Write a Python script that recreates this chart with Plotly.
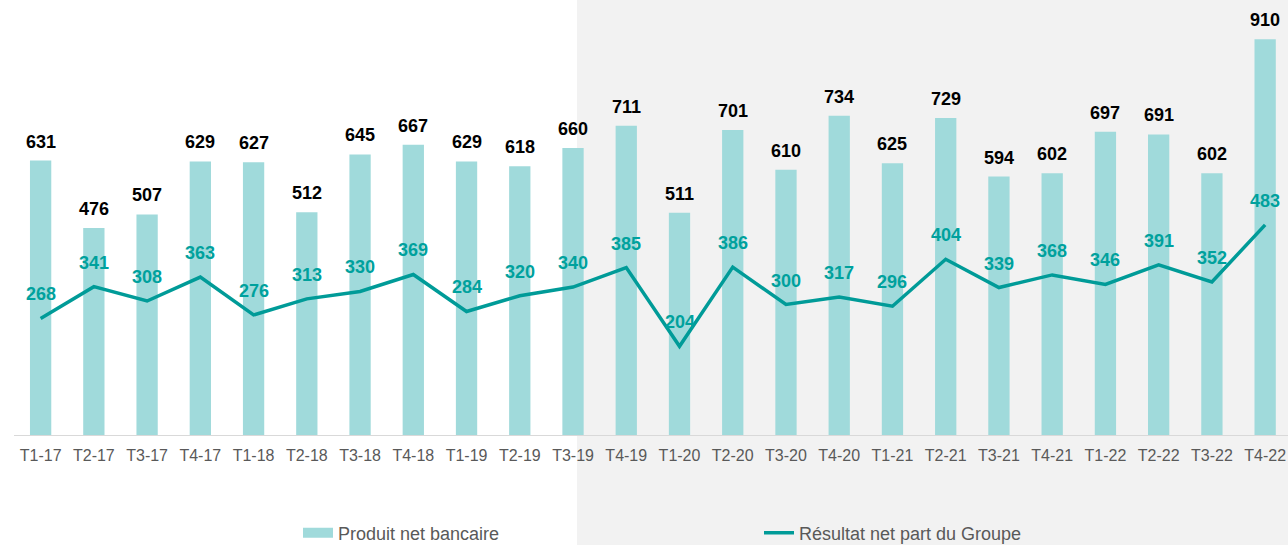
import plotly.graph_objects as go

categories = ["T1-17", "T2-17", "T3-17", "T4-17", "T1-18", "T2-18", "T3-18", "T4-18",
              "T1-19", "T2-19", "T3-19", "T4-19", "T1-20", "T2-20", "T3-20", "T4-20",
              "T1-21", "T2-21", "T3-21", "T4-21", "T1-22", "T2-22", "T3-22", "T4-22"]
pnb = [631, 476, 507, 629, 627, 512, 645, 667, 629, 618, 660, 711,
       511, 701, 610, 734, 625, 729, 594, 602, 697, 691, 602, 910]
rnpg = [268, 341, 308, 363, 276, 313, 330, 369, 284, 320, 340, 385,
        204, 386, 300, 317, 296, 404, 339, 368, 346, 391, 352, 483]

BAR_COLOR = "#A0DADB"
LINE_COLOR = "#009B98"
LABEL_TEAL = "#00A19D"
FONT = "Liberation Sans, Arial, sans-serif"

W, H = 1288, 545
ML, MR, MT, MB = 14, 0, 0, 110
PW = W - ML - MR
PH = H - MT - MB

fig = go.Figure()

fig.add_trace(go.Bar(
    x=categories, y=pnb, name="Produit net bancaire",
    marker=dict(color=BAR_COLOR, line=dict(width=0)),
    showlegend=False, hoverinfo="x+y",
))
# legend-only swatch for the bar series (wide flat rectangle as in the reference)
fig.add_trace(go.Scatter(
    x=[None], y=[None], mode="lines", name="Produit net bancaire",
    line=dict(color=BAR_COLOR, width=10), showlegend=True, hoverinfo="skip",
))
fig.add_trace(go.Scatter(
    x=categories, y=rnpg, mode="lines", name="Résultat net part du Groupe",
    line=dict(color=LINE_COLOR, width=3.5), showlegend=True,
))

annotations = []
for c, v in zip(categories, pnb):
    annotations.append(dict(x=c, y=v, xref="x", yref="y", text=f"<b>{v}</b>",
                            showarrow=False, yanchor="middle", yshift=19,
                            font=dict(family=FONT, size=18, color="#000000")))
for c, v in zip(categories, rnpg):
    annotations.append(dict(x=c, y=v, xref="x", yref="y", text=f"<b>{v}</b>",
                            showarrow=False, yanchor="middle", yshift=24,
                            font=dict(family=FONT, size=18, color=LABEL_TEAL)))

gx0 = (577 - ML) / PW
fig.update_layout(
    width=W, height=H,
    margin=dict(l=ML, r=MR, t=MT, b=MB, pad=0),
    paper_bgcolor="#FFFFFF", plot_bgcolor="rgba(0,0,0,0)",
    bargap=0.6,
    font=dict(family=FONT, color="#595959"),
    shapes=[dict(type="rect", xref="paper", yref="paper", x0=gx0, x1=1.05,
                 y0=-MB / PH - 0.05, y1=1.05, fillcolor="#F2F2F2",
                 line=dict(width=0), layer="below")],
    annotations=annotations,
    xaxis=dict(range=[-0.5, -0.5 + PW / 53.24], showline=True, linecolor="#D9D9D9",
               linewidth=1, showgrid=False, zeroline=False, ticks="outside",
               ticklen=6, tickcolor="rgba(0,0,0,0)",
               tickfont=dict(family=FONT, size=16, color="#595959")),
    yaxis=dict(range=[0, 1000], visible=False, showgrid=False, zeroline=False),
    legend=dict(orientation="h", xref="container", yref="container",
                x=298 / W, xanchor="left", y=1 - 533 / H, yanchor="middle",
                entrywidth=416, entrywidthmode="pixels",
                font=dict(family=FONT, size=18, color="#595959"),
                bgcolor="rgba(0,0,0,0)", itemsizing="trace"),
    showlegend=True,
)

fig.write_html(
    "out.html",
    config={"displayModeBar": False},
    post_script="document.body.style.margin='0';document.body.style.overflow='hidden';",
)
